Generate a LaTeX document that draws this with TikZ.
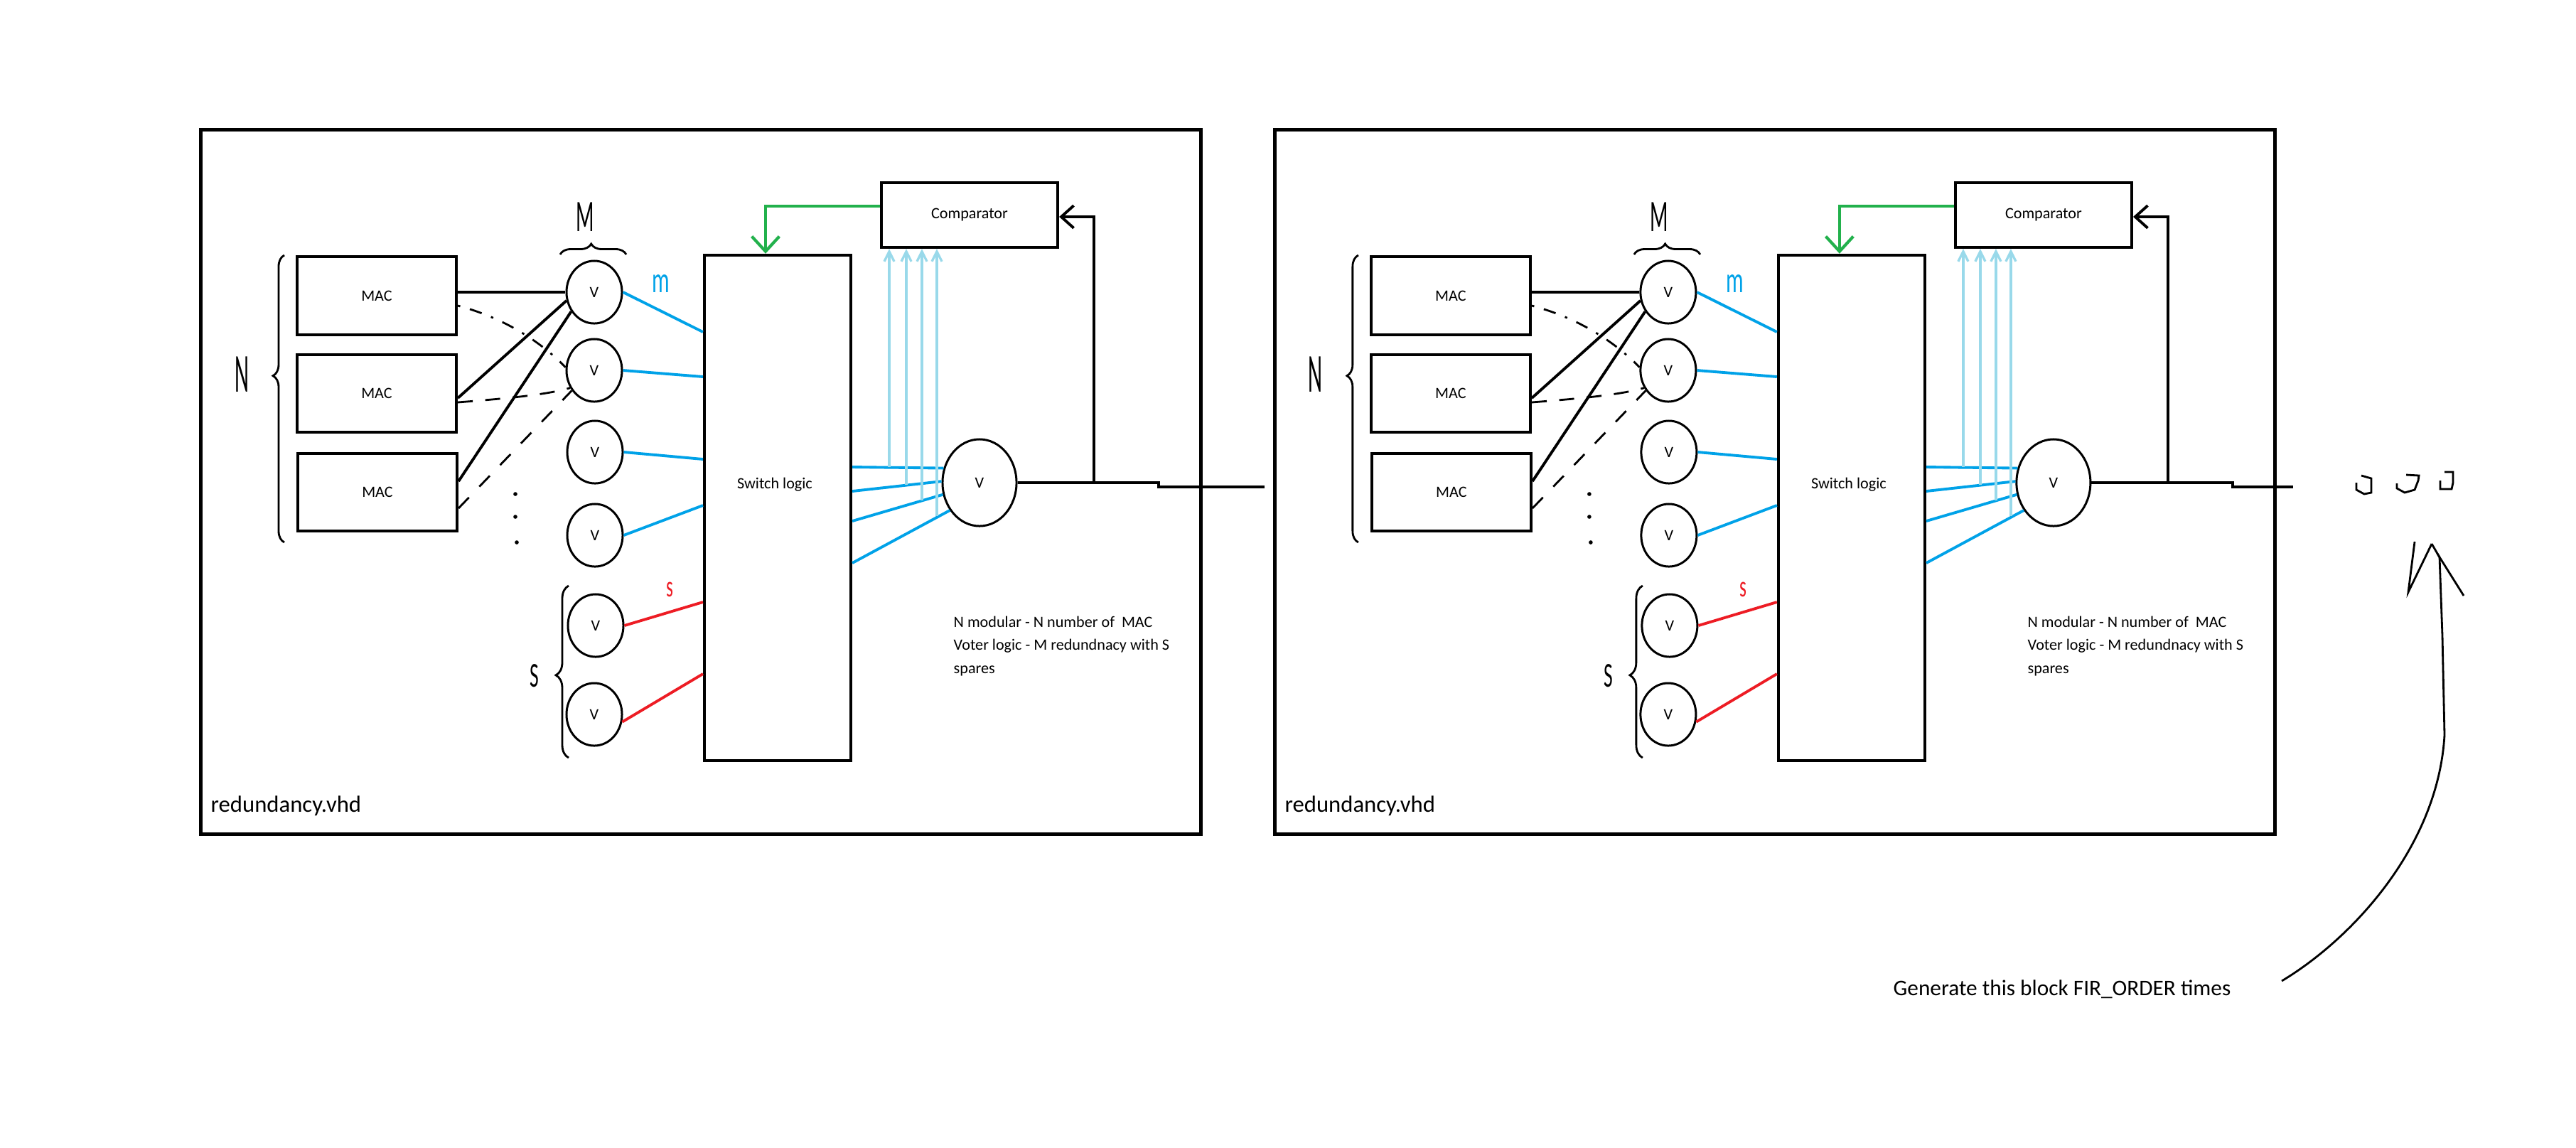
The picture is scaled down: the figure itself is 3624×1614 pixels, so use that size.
\documentclass[tikz,border=0pt]{standalone}
\usepackage{fontspec}
\setmainfont{Carlito}
\usepackage{graphicx}
\usetikzlibrary{shapes.geometric,arrows.meta,decorations.pathreplacing}
\definecolor{pblue}{RGB}{0,162,232}
\definecolor{plight}{RGB}{153,217,234}
\definecolor{pred}{RGB}{237,28,36}
\definecolor{pgreen}{RGB}{34,177,76}
\newcommand\smallfont{\fontsize{6.3}{9.25}\selectfont}
\tikzset{
  outerbox/.style={draw, line width=1.45pt, inner sep=0pt, minimum width=14.06cm, minimum height=9.9cm},
  blk/.style={draw, line width=1.15pt, inner sep=0pt, font=\smallfont},
  vote/.style={draw, ellipse, line width=0.85pt, inner sep=0pt, minimum width=0.78cm, minimum height=0.88cm, font=\smallfont},
  wire/.style={line width=1.1pt},
  bluew/.style={line width=1.1pt, draw=pblue},
  lbw/.style={line width=0.95pt, draw=plight, -{Straight Barb[length=4pt,width=4pt]}},
  redw/.style={line width=1.1pt, draw=pred},
  greenw/.style={line width=1.2pt, draw=pgreen, -{Straight Barb[length=6pt,width=11pt]}},
  hand/.style={line width=0.8pt},
  lbl/.style={inner sep=0pt},
}
\newcommand\redblock[2]{%
  \node[outerbox] (#1box) at (986,678) {};
  \node[anchor=west, lbl, font=\fontsize{9.3}{11}\selectfont] (#1file) at (296,1134) {redundancy.vhd};
  \node[blk, minimum width=2.24cm, minimum height=1.1cm] (#1mac1) at (530,416) {MAC};
  \node[blk, minimum width=2.24cm, minimum height=1.09cm] (#1mac2) at (530,553.5) {MAC};
  \node[blk, minimum width=2.24cm, minimum height=1.09cm] (#1mac3) at (531,692.5) {MAC};
  \node[vote] (#1v1) at (836,411) {V};
  \node[vote] (#1v2) at (836,521) {V};
  \node[vote] (#1v3) at (837,636) {V};
  \node[vote] (#1v4) at (837,753) {V};
  \node[vote] (#1v5) at (838,880) {V};
  \node[vote] (#1v6) at (836,1005) {V};
  \node[blk, minimum width=2.06cm, minimum height=7.11cm] (#1sw) at (1094,714.5) {};
  \node[lbl, font=\smallfont] (#1swt) at (1090,682) {Switch logic};
  \node[blk, minimum width=2.48cm, minimum height=0.91cm] (#1comp) at (1364,302.5) {Comparator};
  \node[vote, minimum width=1.04cm, minimum height=1.22cm] (#1vo) at (1378,679) {V};
  % braces and hand labels
  \draw[hand, decorate, decoration={brace, amplitude=0.16cm, aspect=0.58}] (400,763) -- (400,359);
  \draw[hand, decorate, decoration={brace, amplitude=0.15cm, aspect=0.47}] (788,358) -- (881,358);
  \draw[hand, decorate, decoration={brace, amplitude=0.18cm, aspect=0.48}] (800,1066) -- (800,824);
  \node[lbl, font=\fontsize{22}{22}\selectfont] (#1nlab) at (340,527) {\scalebox{0.4}[1]{N}};
  \node[lbl, font=\fontsize{18}{18}\selectfont] (#1mlab) at (823,305) {\scalebox{0.47}[1]{M}};
  \node[lbl, font=\fontsize{14}{14}\selectfont] (#1slab) at (752,951) {\scalebox{0.56}[1]{S}};
  \node[lbl, text=pblue, font=\fontsize{14.6}{14.6}\selectfont] (#1mm) at (930,399) {\scalebox{0.6}[1]{m}};
  \node[lbl, text=pred, font=\fontsize{12}{12}\selectfont] (#1ss) at (942,829) {\scalebox{0.6}[1]{s}};
  % MAC to voter wiring
  \draw[wire] (#1mac1.east |- 0,411) -- (#1v1.west);
  \draw[wire] (#1mac2.east |- 0,560) -- (#1v1.197);
  \draw[wire] (#1mac3.east |- 0,677) -- (#1v1.220);
  \draw[hand, dash pattern=on 1pt off 4pt on 5pt off 4pt] (#1mac1.east |- 0,430) .. controls (720,450) and (770,490) .. (#1v2.174);
  \draw[hand, dash pattern=on 6pt off 5pt] (#1mac2.east |- 0,566) .. controls (720,560) and (770,555) .. (#1v2.216);
  \draw[hand, dash pattern=on 6pt off 6pt] (#1mac3.east |- 0,715) -- (#1v2.222);
  \fill (725,695) circle (0.8pt);
  \fill (725,727) circle (0.8pt);
  \fill (727,763) circle (0.8pt);
  % voters to switch logic
  \draw[bluew] (#1v1.east) -- (#1sw.west |- 0,467);
  \draw[bluew] (#1v2.east) -- (#1sw.west |- 0,530);
  \draw[bluew] (#1v3.east) -- (#1sw.west |- 0,646);
  \draw[bluew] (#1v4.east) -- (#1sw.west |- 0,711);
  \draw[redw] (#1v5.east) -- (#1sw.west |- 0,847);
  \draw[redw] (#1v6.-15) -- (#1sw.west |- 0,948);
  % switch logic to output voter
  \draw[bluew] (#1sw.east |- 0,657) -- (#1vo.158);
  \draw[bluew] (#1sw.east |- 0,691) -- (#1vo.178);
  \draw[bluew] (#1sw.east |- 0,733) -- (#1vo.198);
  \draw[bluew] (#1sw.east |- 0,792) -- (#1vo.223);
  \draw[lbw] (1251,657) -- (#1comp.south -| 1251,0);
  \draw[lbw] (1275,682) -- (#1comp.south -| 1275,0);
  \draw[lbw] (1297,704) -- (#1comp.south -| 1297,0);
  \draw[lbw] (1318,726) -- (#1comp.south -| 1318,0);
  % output and feedback
  \coordinate (#1tap) at (1539,679);
  \draw[wire] (#1vo.east) -- (1630,679) -- (1630,685) -- (#2,685);
  \draw[wire, -{Straight Barb[length=5pt,width=9pt]}] (#1tap) -- (1539,305) -- (#1comp.east |- 0,305);
  \draw[greenw] (#1comp.west |- 0,290) -- (1077,290) -- (#1sw.north -| 1077,0);
  % note
  \node[anchor=north west, align=left, lbl, font=\smallfont] (#1note) at (1341,866) {N modular - N number of\ \ MAC\\Voter logic - M redundnacy with S\\spares};
}
\begin{document}
\begin{tikzpicture}[x=0.01cm, y=-0.01cm]
  \useasboundingbox (0,0) rectangle (3624,1614);
  \redblock{L}{1779}
  \begin{scope}[xshift=15.1cm]
    \redblock{R}{1715}
  \end{scope}
  % "..." continuation marks
  \draw[hand] (3315,679) -- (3315,689) -- (3326,695) -- (3336,693) -- (3336,673) -- (3322,669);
  \draw[hand] (3372,680) -- (3372,687) -- (3383,693) -- (3397,689) -- (3402,676) -- (3403,669) -- (3385,668);
  \draw[hand] (3433,676) -- (3433,688) -- (3449,688) -- (3451,679) -- (3451,664) -- (3439,664);
  % curved arrow
  \coordinate (arrtip) at (3421,765);
  \draw[hand] (3210,1380) .. controls (3310,1320) and (3430,1190) .. (3439,1034) -- (3436,895) -- (3432,784) -- (arrtip);
  \draw[hand] (arrtip) -- (3388,833) -- (3397,762);
  \draw[hand] (3429,779) -- (3466,838);
  \node[lbl, font=\fontsize{8.9}{11}\selectfont] (gen) at (2901,1392) {Generate this block FIR\_ORDER times};
\end{tikzpicture}
\end{document}
